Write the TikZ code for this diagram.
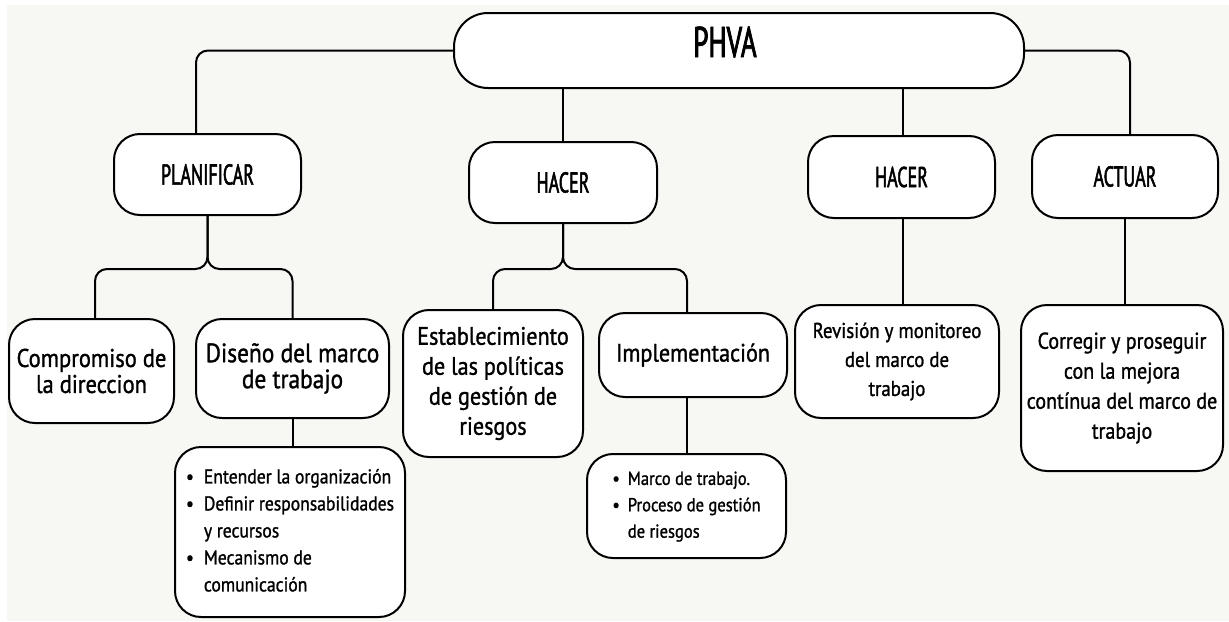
\documentclass[tikz,border=0pt]{standalone}
\usepackage{fontspec}
\setmainfont{PT Sans}
\newfontfamily\headfont{PT Sans}[FakeStretch=0.63, FakeBold=1.8]
\newfontfamily\boxfont{PT Sans}[FakeStretch=0.88, FakeBold=1.2]
\definecolor{papel}{HTML}{F7F7F3}
\tikzset{caja/.style = {draw, line width=1pt, fill=white, rounded corners=13pt,
                        inner sep=0pt, align=center,
                        font=\boxfont\fontsize{11.4}{15}\selectfont}}
\tikzset{etapa/.style = {caja, font=\headfont\fontsize{14.3}{17}\selectfont}}
\tikzset{lista/.style = {caja, font=\boxfont\fontsize{10}{13.5}\selectfont}}
\tikzset{conn/.style = {line width=1pt, rounded corners=6pt}}

\begin{document}
\begin{tikzpicture}[x=0.5pt, y=0.5pt]
		\useasboundingbox (0,0) rectangle (1229,-621);
		\fill[white] (0,0) rectangle (1229,-621);
		\fill[papel] (7,-5) rectangle (1229,-621);
		% raiz
		\node[caja, rounded corners=17pt, minimum width=285pt, minimum height=37.5pt] (phva) at (739,-50.5) {};
		\node[font=\headfont\fontsize{21.5}{24}\selectfont] (phvatxt) at (725,-42) {PHVA};
		% etapas
		\node[etapa, minimum width=93.5pt, minimum height=40.5pt] (plan) at (207.5,-174.5) {PLANIFICAR};
		\node[etapa, minimum width=94pt, minimum height=40.5pt] (hacer) at (563,-182.5) {HACER};
		\node[etapa, minimum width=93.5pt, minimum height=41pt] (verif) at (901.5,-177) {HACER};
		\node[etapa, minimum width=93pt, minimum height=41.5pt] (actuar) at (1125,-176.5) {ACTUAR};
		% tareas
		\node[caja, minimum width=82.5pt, minimum height=52pt, font=\boxfont\fontsize{12.8}{13}\selectfont] (comp) at (91.5,-371) {Compromiso de\\la direccion};
		\node[caja, minimum width=96.5pt, minimum height=49.5pt, font=\boxfont\fontsize{13.3}{13}\selectfont] (dis) at (292.5,-368.5) {Diseño del marco\\de trabajo};
		\node[caja, minimum width=90pt, minimum height=73.5pt, font=\boxfont\fontsize{12.6}{15}\selectfont] (est) at (493,-383.5) {Establecimiento\\de las políticas\\de gestión de\\riesgos};
		\node[caja, minimum width=94pt, minimum height=42pt, font=\boxfont\fontsize{12.6}{15}\selectfont] (impl) at (693,-355) {Implementación};
		\node[caja, minimum width=102pt, minimum height=56.5pt, font=\boxfont\fontsize{10.7}{14.5}\selectfont] (rev) at (897,-361.5) {Revisión y monitoreo\\del marco de\\trabajo};
		\node[caja, minimum width=101pt, minimum height=83pt] (corr) at (1122,-388) {Corregir y proseguir\\con la mejora\\contínua del marco de\\trabajo};
		% listas
		\node[lista, minimum width=115pt, minimum height=85pt] (lista1) at (290,-532) {%
			\begin{tabular}{@{}l@{\hspace{5pt}}l@{}}
			• & Entender la organización\\
			• & Definir responsabilidades\\
			  & y recursos\\
			• & Mecanismo de\\
			  & comunicación
			\end{tabular}};
		\node[lista, minimum width=99.5pt, minimum height=52pt, font=\boxfont\fontsize{9.4}{13.2}\selectfont] (lista2) at (686.5,-506) {%
			\begin{tabular}{@{}l@{\hspace{4pt}}l@{}}
			• & Marco de trabajo.\\
			• & Proceso de gestión\\
			  & de riesgos
			\end{tabular}};
		% conectores
		\draw[conn] (phva.west) -| ([xshift=-5.75pt]plan.north);
		\draw[conn] (phva.east) -| ([xshift=2.5pt]actuar.north);
		\draw[conn] (phva.south -| hacer.north) -- (hacer.north);
		\draw[conn] ([xshift=0.75pt]phva.south -| verif.north) -- ([xshift=0.75pt]verif.north);
		\draw[conn] (plan.south) -- ++(0,-53) -| ([xshift=1.75pt]comp.north);
		\draw[conn] (plan.south) -- ++(0,-53) -| (dis.north);
		\draw[conn] (hacer.south) -- ++(0,-45) -| (est.north);
		\draw[conn] (hacer.south) -- ++(0,-45) -| ([xshift=-3pt]impl.north);
		\draw[conn] ([xshift=0.75pt]verif.south) -- ([xshift=0.75pt]verif.south |- rev.north);
		\draw[conn] (actuar.south) -- (actuar.south |- corr.north);
		\draw[conn] (dis.south) -- (dis.south |- lista1.north);
		\draw[conn] ([xshift=-3pt]impl.south) -- ([xshift=-3pt]impl.south |- lista2.north);
	\end{tikzpicture}
\end{document}
